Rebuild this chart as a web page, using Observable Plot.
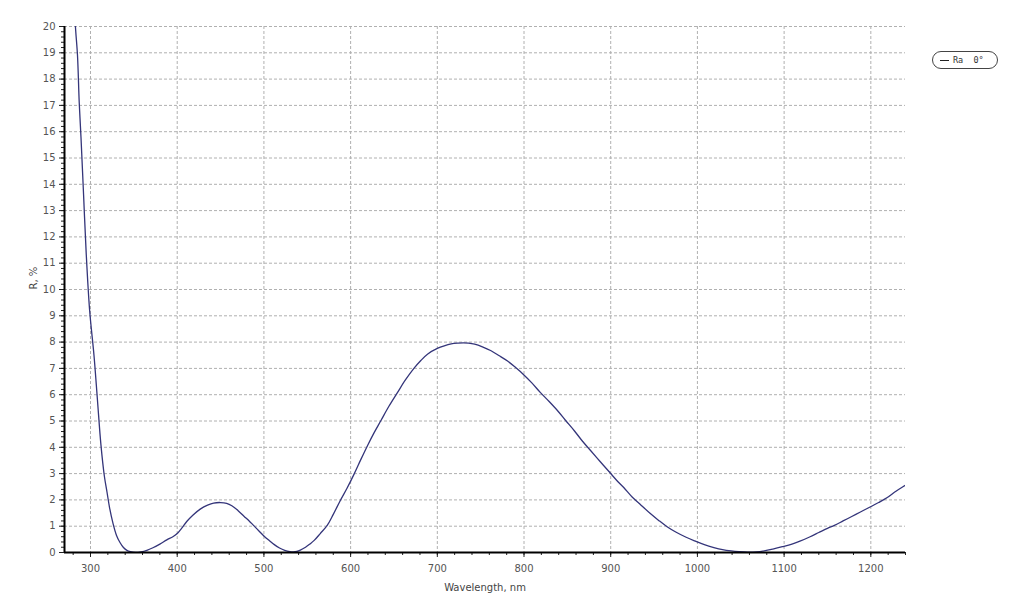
<!DOCTYPE html>
<html>
<head>
<meta charset="utf-8">
<script src="https://cdn.jsdelivr.net/npm/d3@7"></script>
<script src="https://cdn.jsdelivr.net/npm/@observablehq/plot@0.6"></script>
<style>
  html, body { margin: 0; padding: 0; background: #fff; }
  #wrap { position: relative; width: 1024px; height: 608px; }
  #legend {
    position: absolute; left: 932px; top: 51px; width: 64px; height: 16px;
    border: 1px solid #444; border-radius: 9px; box-sizing: content-box;
    font-family: "DejaVu Sans Mono", monospace; font-size: 8.5px; color: #333;
  }
  #legend .sw { position: absolute; left: 7px; top: 7.5px; width: 9px; height: 1.6px; background: #222; }
  #legend .tx { position: absolute; left: 20px; top: 2.5px; white-space: pre; }
</style>
</head>
<body>
<div id="wrap"></div>
<script>
const wavelength = [282, 283, 285, 287, 289, 292, 295, 299, 304, 308, 312, 316, 319, 322, 326, 330, 334, 338, 342, 346, 352, 358, 365, 372, 380, 388, 395, 400, 405, 411, 418, 427, 435, 442, 450, 457, 463, 470, 477, 483, 488, 494, 500, 506, 512, 518, 524, 530, 534, 538, 542, 548, 553, 558, 565, 573, 580, 588, 596, 604, 612, 620, 627, 635, 644, 654, 663, 673, 681, 689, 700, 708, 716, 724, 730, 736, 743, 752, 762, 771, 781, 790, 799, 809, 819, 829, 839, 848, 858, 867, 877, 888, 899, 907, 915, 925, 935, 945, 955, 965, 975, 987, 997, 1008, 1019, 1029, 1039, 1048, 1058, 1068, 1077, 1087, 1098, 1109, 1119, 1130, 1140, 1150, 1158, 1168, 1178, 1188, 1198, 1209, 1219, 1229, 1237, 1240];
const reflectance = [20.3, 19.8, 18.9, 17.1, 15.8, 13.6, 11.4, 9.2, 7.5, 5.8, 4.1, 2.9, 2.3, 1.7, 1.1, 0.65, 0.38, 0.19, 0.08, 0.03, 0.0, 0.02, 0.08, 0.18, 0.32, 0.48, 0.6, 0.72, 0.92, 1.18, 1.42, 1.66, 1.8, 1.88, 1.9, 1.87, 1.78, 1.6, 1.38, 1.2, 1.03, 0.83, 0.63, 0.46, 0.3, 0.17, 0.08, 0.03, 0.02, 0.04, 0.09, 0.2, 0.32, 0.46, 0.72, 1.03, 1.45, 1.97, 2.45, 2.98, 3.55, 4.1, 4.55, 5.02, 5.55, 6.08, 6.55, 7.0, 7.3, 7.55, 7.76, 7.86, 7.93, 7.96, 7.97, 7.96, 7.92, 7.82, 7.67, 7.49, 7.28, 7.04, 6.78, 6.45, 6.08, 5.74, 5.38, 5.02, 4.63, 4.25, 3.87, 3.45, 3.04, 2.74, 2.47, 2.1, 1.8, 1.5, 1.23, 0.98, 0.78, 0.58, 0.44, 0.3, 0.19, 0.11, 0.06, 0.03, 0.01, 0.02, 0.06, 0.13, 0.22, 0.32, 0.44, 0.6, 0.76, 0.92, 1.03, 1.2, 1.37, 1.54, 1.71, 1.9, 2.09, 2.33, 2.5, 2.56];
const xTicks = [300, 400, 500, 600, 700, 800, 900, 1000, 1100, 1200];
const xMinorTicks = d3.range(280, 1241, 20);
const yTicks = [0, 1, 2, 3, 4, 5, 6, 7, 8, 9, 10, 11, 12, 13, 14, 15, 16, 17, 18, 19, 20];
const yMinorTicks = d3.range(0, 100.5, 1).map(d => d / 5);
const seriesName = "Ra  0°";
const xLabel = "Wavelength, nm";
const yLabel = "R, %";

const data = wavelength.map((w, i) => ({w, r: reflectance[i]}));
const font = "DejaVu Sans, sans-serif";

const chart = Plot.plot({
  width: 1024,
  height: 608,
  marginLeft: 64,
  marginRight: 119,
  marginTop: 26,
  marginBottom: 56,
  style: {fontFamily: font, fontSize: "10px", background: "#fff"},
  x: {domain: [270, 1240], axis: null, label: null},
  y: {domain: [0, 20], axis: null, label: null},
  marks: [
    Plot.gridX(xTicks, {stroke: "#b0b0b0", strokeOpacity: 1, strokeDasharray: "3,2"}),
    Plot.gridY(yTicks, {stroke: "#b0b0b0", strokeOpacity: 1, strokeDasharray: "3,2"}),
    Plot.line(data, {x: "w", y: "r", stroke: "#34357a", strokeWidth: 1.3, clip: true, curve: "catmull-rom"}),
    Plot.axisX(xMinorTicks, {tickSize: 3, tickFormat: () => "", stroke: "#222", label: null}),
    Plot.axisX(xTicks, {tickSize: 5, tickPadding: 7, stroke: "#222", fill: "#555", tickFormat: d => String(d), fontSize: 10, label: null}),
    Plot.axisY(yMinorTicks, {tickSize: 3, tickFormat: () => "", stroke: "#222", label: null}),
    Plot.axisY(yTicks, {tickSize: 5, tickPadding: 4, stroke: "#222", fill: "#555", tickFormat: d => String(d), fontSize: 10, label: null}),
    Plot.ruleX([270], {stroke: "#000", strokeWidth: 2}),
    Plot.ruleY([0], {stroke: "#000", strokeWidth: 2}),
    Plot.text([yLabel], {frameAnchor: "left", rotate: -90, dx: -31, fill: "#444", fontSize: 10}),
    Plot.text([xLabel], {frameAnchor: "bottom", dy: 38, fill: "#444", fontSize: 10})
  ]
});

const wrap = document.getElementById("wrap");
wrap.appendChild(chart);
const legend = document.createElement("div");
legend.id = "legend";
legend.innerHTML = '<div class="sw"></div><div class="tx"></div>';
legend.querySelector(".tx").textContent = seriesName;
wrap.appendChild(legend);
</script>
</body>
</html>
